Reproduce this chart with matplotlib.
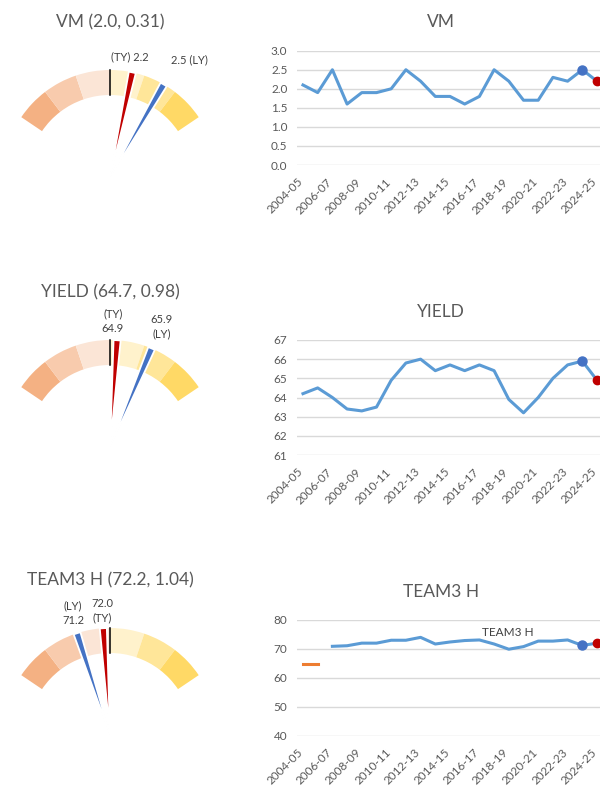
import numpy as np
import matplotlib
matplotlib.use("Agg")
import matplotlib.pyplot as plt
import matplotlib.transforms as mtrans
from matplotlib.patches import Wedge

plt.rcParams['font.family'] = ['Lato', 'DejaVu Sans']

seasons = ['2004-05', '2005-06', '2006-07', '2007-08', '2008-09', '2009-10', '2010-11',
           '2011-12', '2012-13', '2013-14', '2014-15', '2015-16', '2016-17', '2017-18',
           '2018-19', '2019-20', '2020-21', '2021-22', '2022-23', '2023-24', '2024-25']

vm = [2.1, 1.9, 2.5, 1.6, 1.9, 1.9, 2.0, 2.5, 2.2, 1.8, 1.8, 1.6, 1.8, 2.5, 2.2,
      1.7, 1.7, 2.3, 2.2, 2.5, 2.2]
yld = [64.2, 64.5, 64.0, 63.4, 63.3, 63.5, 64.9, 65.8, 66.0, 65.4, 65.7, 65.4, 65.7,
       65.4, 63.9, 63.2, 64.0, 65.0, 65.7, 65.9, 64.9]
nan = np.nan
team3 = [nan, nan, 70.9, 71.1, 72.0, 72.0, 73.0, 73.0, 74.0, 71.7, 72.4, 72.9, 73.1,
         71.7, 69.9, 70.8, 72.7, 72.7, 73.1, 71.2, 72.0]
team3_old = [64.8, 64.8] + [nan] * 19

names = ['VM', 'YIELD', 'TEAM3 H']
means = [2.0, 64.7, 72.2]
stds = [0.31, 0.98, 1.04]
ty_fmt = ['(TY) {:.1f}', '(TY)\n{:.1f}', '{:.1f}\n(TY)']
ly_fmt = ['{:.1f} (LY)', '{:.1f}\n(LY)', '(LY)\n{:.1f}']

yticks = [np.arange(0, 3.01, 0.5), np.arange(61, 67.1, 1), np.arange(40, 80.1, 10)]
ytick_fmt = ['{:.1f}', '{:.0f}', '{:.0f}']

seg_colors = ['#F4B183', '#F8CBAD', '#FBE5D6', '#FFF2CC', '#FFE699', '#FFD966']

# layout (pixels, from top of the figure)
W, H = 600, 792
gauge_cy = [177, 447, 735]
ty_pos = [(20, 120), (3, 126), (-8, 124)]
ly_pos = [(79, 117), (52, 120), (-37, 122)]
line_box = [(50.7, 165), (340, 455), (620, 735.7)]
line_title_y = [22, 312, 592]

R_OUT, R_IN = 107, 82
HALF = 56.0
SEG = HALF / 3
GRAY = '#595959'


def fbox(x0, y0, x1, y1):
    return [x0 / W, 1 - y1 / H, (x1 - x0) / W, (y1 - y0) / H]


fig = plt.figure(figsize=(6, 7.92), dpi=100)
# x labels: move a little left and down from the tick position
lab_off = mtrans.ScaledTranslation(-0.06, -0.11, fig.dpi_scale_trans)

series = [(vm, None), (yld, None), (team3, team3_old)]

for k in range(3):
    # ---- gauge ----
    cy = gauge_cy[k]
    ax = fig.add_axes(fbox(0, cy - 175, 220, cy + 20))
    ax.set_xlim(-110, 110)
    ax.set_ylim(-20, 175)
    ax.axis('off')
    for i, c in enumerate(seg_colors):
        t2 = 90 + HALF - i * SEG
        ax.add_patch(Wedge((0, 0), R_OUT, t2 - SEG, t2, width=R_OUT - R_IN, color=c, lw=0))
    ax.plot([0, 0], [R_IN, R_OUT], color='black', lw=1.1)
    vals, old = series[k]
    ly, ty = vals[-2], vals[-1]
    for v, col in ((ly, '#4472C4'), (ty, '#C00000')):
        ang = 90 - (v - means[k]) / stds[k] * SEG
        ax.add_patch(Wedge((0, 0), R_OUT, ang - 1.9, ang + 1.9, facecolor=col,
                           edgecolor='white', lw=1.3))
    ax.text(0, 155, '%s (%.1f, %.2f)' % (names[k], means[k], stds[k]), ha='center',
            va='center', fontsize=12.5, color=GRAY)
    ax.text(ty_pos[k][0], ty_pos[k][1], ty_fmt[k].format(ty), ha='center', va='center',
            fontsize=8, color='#404040', linespacing=1.35)
    ax.text(ly_pos[k][0], ly_pos[k][1], ly_fmt[k].format(ly), ha='center', va='center',
            fontsize=8, color='#404040', linespacing=1.35)

    # ---- line chart ----
    y0, y1 = line_box[k]
    ax2 = fig.add_axes(fbox(297.1, y0, 602.9, y1))
    x = np.arange(len(seasons))
    ax2.plot(x, vals, color='#5B9BD5', lw=2.2, solid_joinstyle='round', zorder=3)
    if old is not None:
        ax2.plot(x, old, color='#ED7D31', lw=2.2, zorder=3)
        ax2.text(13.9, 75.8, names[k], ha='center', va='center', fontsize=8.5, color='#404040')
    ax2.plot(x[-2], ly, 'o', color='#4472C4', ms=6.5, clip_on=False, zorder=4)
    ax2.plot(x[-1], ty, 'o', color='#C00000', ms=6, clip_on=False, zorder=4)
    ax2.set_xlim(-0.4, 20.4)
    ax2.set_ylim(yticks[k][0], yticks[k][-1])
    ax2.set_yticks(yticks[k])
    ax2.set_yticklabels([ytick_fmt[k].format(t) for t in yticks[k]])
    ax2.set_xticks([])
    trans = ax2.get_xaxis_transform() + lab_off
    for xi in x[::2]:
        ax2.text(xi, 0, seasons[xi], rotation=45, ha='right', va='top',
                 rotation_mode='anchor', transform=trans, fontsize=8.5, color=GRAY)
    ax2.grid(axis='y', color='#D9D9D9', lw=1)
    ax2.set_axisbelow(True)
    for s in ax2.spines.values():
        s.set_visible(False)
    ax2.tick_params(length=0, colors=GRAY)
    ax2.tick_params(axis='y', pad=7, labelsize=8.5)
    fig.text(441 / W, 1 - line_title_y[k] / H, names[k], ha='center', va='center',
             fontsize=12.5, color=GRAY)

fig.savefig('out.png', dpi=100)
